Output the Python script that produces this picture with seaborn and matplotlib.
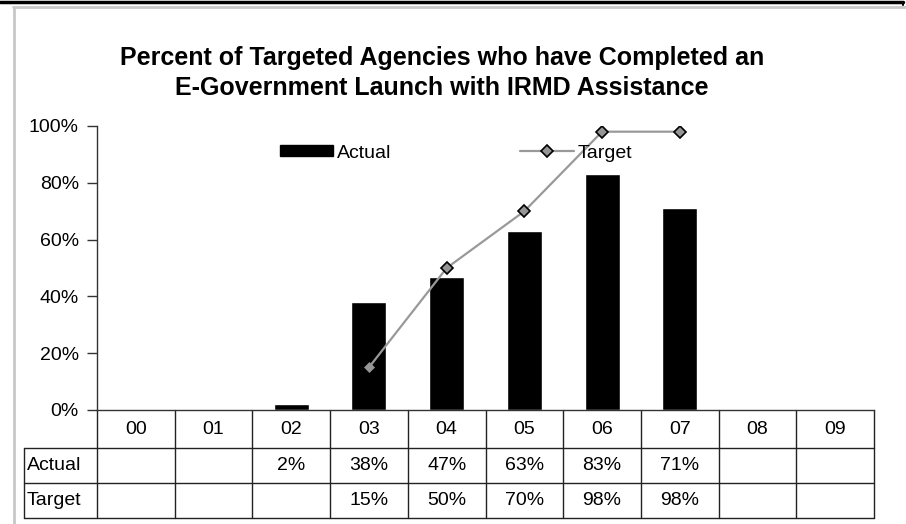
import matplotlib
matplotlib.use("Agg")
import matplotlib.pyplot as plt
import seaborn as sns
import numpy as np
import pandas as pd
from matplotlib.lines import Line2D
from matplotlib.patches import Patch
from matplotlib.transforms import blended_transform_factory

categories = ["00", "01", "02", "03", "04", "05", "06", "07", "08", "09"]
actual = [np.nan, np.nan, 0.02, 0.38, 0.47, 0.63, 0.83, 0.71, np.nan, np.nan]
target = [np.nan, np.nan, np.nan, 0.15, 0.50, 0.70, 0.98, 0.98, np.nan, np.nan]
actual_labels = ["", "", "2%", "38%", "47%", "63%", "83%", "71%", "", ""]
target_labels = ["", "", "", "15%", "50%", "70%", "98%", "98%", "", ""]
yticks = [0, 0.2, 0.4, 0.6, 0.8, 1.0]
ytick_labels = ["0%", "20%", "40%", "60%", "80%", "100%"]
title = "Percent of Targeted Agencies who have Completed an\nE-Government Launch with IRMD Assistance"

W, H = 906, 524
sns.set_theme(style="white")
plt.rcParams["font.family"] = ["Liberation Sans", "DejaVu Sans"]
plt.rcParams["text.color"] = "black"
plt.rcParams["ytick.color"] = "black"
plt.rcParams["ytick.labelcolor"] = "black"
FS = 14

fig = plt.figure(figsize=(W / 100, H / 100), dpi=100)
fig.patch.set_facecolor("white")
ax_l, ax_r, ax_b, ax_t = 97, 874, 410, 126
ax = fig.add_axes([ax_l / W, (H - ax_b) / H, (ax_r - ax_l) / W, (ax_b - ax_t) / H])
ax.set_facecolor("white")

df = pd.DataFrame({"year": categories, "actual": actual})
sns.barplot(data=df, x="year", y="actual", order=categories, color="black",
            saturation=1, width=0.45, ax=ax, zorder=2)

tdf = pd.DataFrame({"pos": list(range(len(categories))), "target": target}).dropna()
sns.lineplot(data=tdf, x="pos", y="target", color="#999999", lw=1.6, ax=ax, zorder=3)
ax.plot(tdf["pos"].iloc[1:], tdf["target"].iloc[1:], linestyle="none", marker="D",
        ms=6.5, mfc="#969696", mec="black", mew=1.2, zorder=4)
ax.plot(tdf["pos"].iloc[:1], tdf["target"].iloc[:1], linestyle="none", marker="D",
        ms=5, mfc="#969696", mec="#969696", mew=0.5, zorder=4)

ax.set_xlim(-0.5, len(categories) - 0.5)
ax.set_ylim(0, 1)
ax.set_xlabel("")
ax.set_ylabel("")
ax.set_xticks([])
ax.set_yticks(yticks)
ax.set_yticklabels(ytick_labels, fontsize=FS, color="black")
ax.tick_params(axis="y", direction="out", length=7, width=1, color="#333333", pad=6, left=True)
for s in ["top", "right"]:
    ax.spines[s].set_visible(False)
for s in ["left", "bottom"]:
    ax.spines[s].set_visible(True)
    ax.spines[s].set_color("#333333")
    ax.spines[s].set_linewidth(1)

# data table below the axis
px = ax_b - ax_t
tr = blended_transform_factory(ax.transData, ax.transAxes)
row_edges = [0, -38 / px, -73 / px, -108 / px]
x_left = -0.5 - (ax_l - 24) / ((ax_r - ax_l) / len(categories))
x_txt = -0.5 - (ax_l - 27) / ((ax_r - ax_l) / len(categories))
lc = "#222222"
for ye in row_edges[1:]:
    ax.add_line(Line2D([x_left, len(categories) - 0.5], [ye, ye], transform=tr,
                       color=lc, lw=1, clip_on=False))
for i in range(len(categories) + 1):
    xb = i - 0.5
    ax.add_line(Line2D([xb, xb], [0, row_edges[-1]], transform=tr, color=lc, lw=1, clip_on=False))
ax.add_line(Line2D([x_left, x_left], [row_edges[1], row_edges[-1]], transform=tr,
                   color=lc, lw=1, clip_on=False))

centers = [(row_edges[k] + row_edges[k + 1]) / 2 for k in range(3)]
for i, c in enumerate(categories):
    ax.text(i, centers[0], c, transform=tr, ha="center", va="center", fontsize=FS)
    ax.text(i, centers[1], actual_labels[i], transform=tr, ha="center", va="center", fontsize=FS)
    ax.text(i, centers[2], target_labels[i], transform=tr, ha="center", va="center", fontsize=FS)
ax.text(x_txt, centers[1], "Actual", transform=tr, ha="left", va="center", fontsize=FS)
ax.text(x_txt, centers[2], "Target", transform=tr, ha="left", va="center", fontsize=FS)

# legend
handles = [Patch(facecolor="black", edgecolor="black", label="Actual"),
           Line2D([], [], color="#999999", lw=1.6, marker="D", ms=6.5, mfc="#969696",
                  mec="black", mew=1.2, label="Target")]
fig.legend(handles=handles, loc="center left", bbox_to_anchor=(280 / W, (H - 153) / H),
           ncol=2, frameon=False, fontsize=FS, handlelength=2.75, handleheight=0.55,
           handletextpad=0.2, columnspacing=6.6, borderpad=0, borderaxespad=0)

# title
fig.text(442 / W, (H - 73) / H, title, ha="center", va="center", fontsize=18,
         fontweight="bold", linespacing=1.32, color="black")

# outer frame
fig.add_artist(Line2D([0, 903 / W], [1 - 1.5 / H, 1 - 1.5 / H], transform=fig.transFigure,
                      color="black", lw=2.5))
fig.add_artist(Line2D([903 / W, 903 / W], [1 - 1.5 / H, 1 - 5 / H], transform=fig.transFigure,
                      color="black", lw=1.5))
fig.add_artist(Line2D([13 / W, 1], [1 - 7 / H, 1 - 7 / H], transform=fig.transFigure,
                      color="#c8c8c8", lw=2))
fig.add_artist(Line2D([13.5 / W, 13.5 / W], [0, 1 - 7 / H], transform=fig.transFigure,
                      color="#c8c8c8", lw=2))

fig.savefig("out.png", dpi=100, facecolor="white")
